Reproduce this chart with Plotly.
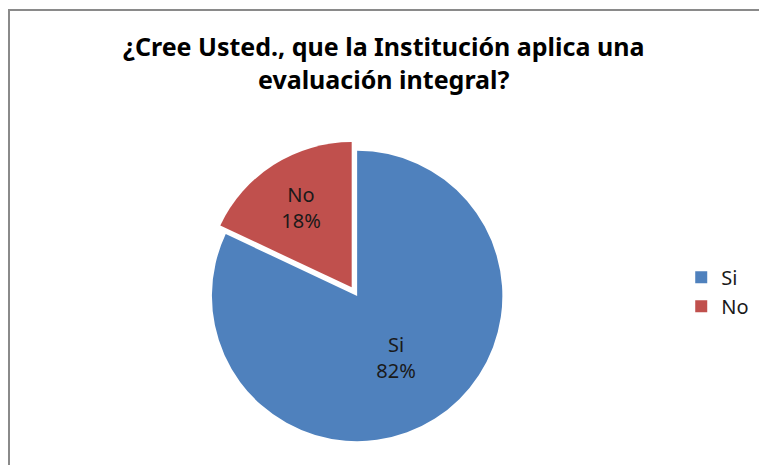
import plotly.graph_objects as go

categories = ["Si", "No"]
values = [82, 18]
colors = ["#4F81BD", "#C0504D"]
title_text = "<b>¿Cree Usted., que la Institución aplica una<br>evaluación integral?</b>"

# The page body adds an 8px offset, so the figure is sized to fit the window.
W, H = 759, 457

fig = go.Figure(go.Pie(
    labels=categories,
    values=values,
    sort=False,
    direction="clockwise",
    rotation=0,
    pull=[0, 0.07],
    marker=dict(colors=colors, line=dict(color="white", width=0)),
    texttemplate="%{label}<br>%{percent:.0%}",
    textposition="inside",
    insidetextorientation="horizontal",
    textfont=dict(family="Noto Sans", size=20, color="#1a1a1a"),
    domain=dict(x=[0.11, 0.81], y=[0.03, 0.71]),
    hoverinfo="label+percent",
))

fig.update_layout(
    width=W, height=H,
    margin=dict(l=0, r=0, t=0, b=0),
    paper_bgcolor="white",
    plot_bgcolor="white",
    title=dict(
        text=title_text,
        x=0.495, xanchor="center",
        y=1 - 48 / H, yanchor="top",
        font=dict(family="Noto Sans", size=25, color="#000000"),
    ),
    legend=dict(
        x=0.887, xanchor="left",
        y=0.379, yanchor="middle",
        font=dict(family="Noto Sans", size=20, color="#1a1a1a"),
        bgcolor="rgba(0,0,0,0)",
    ),
    shapes=[dict(
        type="rect", xref="paper", yref="paper",
        x0=1 / W, x1=1.02, y0=-0.02, y1=1 - 2 / H,
        line=dict(color="#8a8a8a", width=2),
        fillcolor="rgba(0,0,0,0)",
    )],
)

fig.write_html("out.html")
